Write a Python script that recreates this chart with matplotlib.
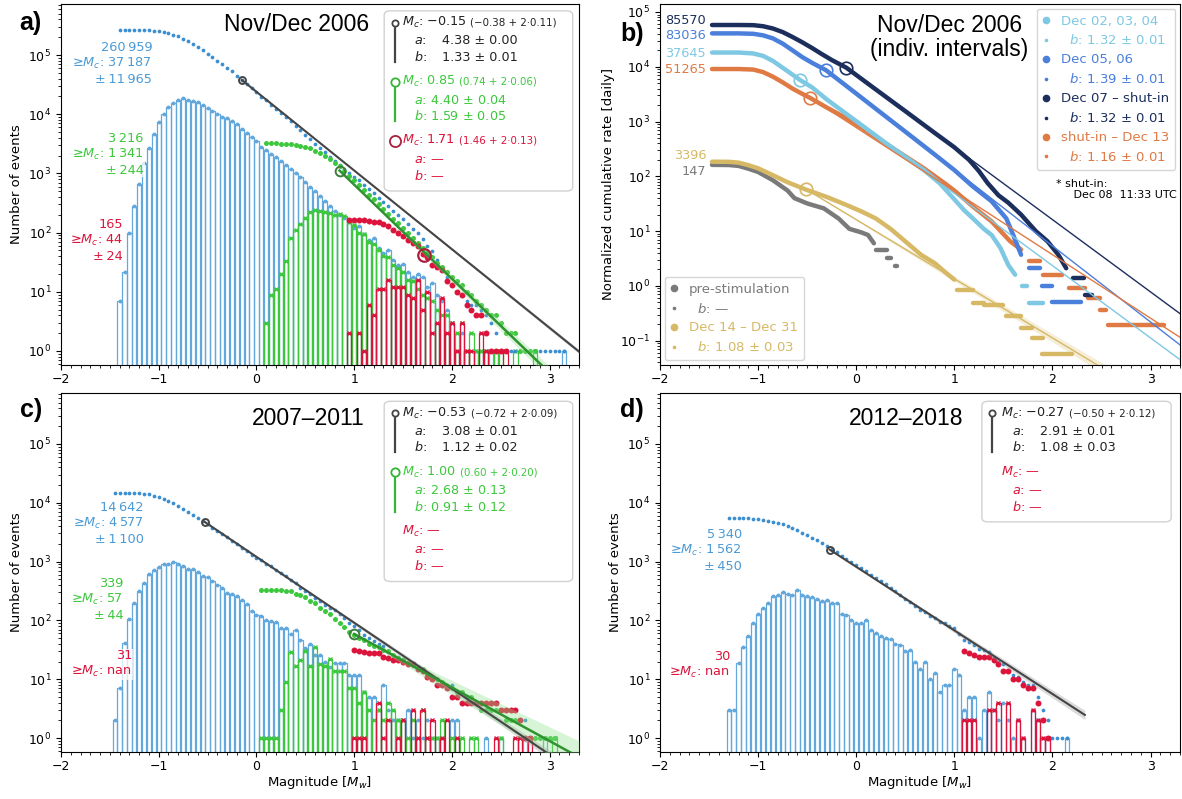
import numpy as np
import matplotlib.pyplot as plt
from matplotlib.lines import Line2D
from matplotlib.patches import FancyBboxPatch
from matplotlib.ticker import MultipleLocator, FixedLocator, LogLocator, NullFormatter

plt.rcParams['font.family'] = ['DejaVu Sans']
plt.rcParams['mathtext.fontset'] = 'dejavusans'

BIN = 0.05

# ---- panel a: Nov/Dec 2006, event counts per 0.05 magnitude bin
a_blue_start = -1.40
a_blue = [7, 22, 97, 283, 670, 1480, 2720, 4700, 7400, 10300,
          13100, 15800, 17500, 18700, 17500, 17000, 16000, 14600, 12900, 11400,
          10300, 9000, 8550, 7700, 6950, 5600, 4900, 4200, 3600, 2820,
          2480, 2140, 1880, 1630, 1370, 1200, 1030, 860, 730, 600,
          500, 410, 340, 280, 230, 200, 180, 150, 120, 130,
          95, 75, 80, 55, 45, 50, 35, 28, 30, 22,
          18, 20, 18, 12, 14, 9, 7, 5, 3, 1,
          2, 1, 0, 1, 1, 1, 1, 1, 0, 0,
          0, 0, 0, 0, 0, 0, 0, 0, 0, 0,
          0, 1]
a_green_start = 0.10
a_green = [3, 9, 11, 20, 33, 80, 110, 140, 180, 220,
           240, 230, 220, 215, 200, 210, 190, 150, 135, 100,
           95, 70, 65, 50, 40, 38, 28, 25, 22, 16,
           15, 11, 9, 8, 7, 5, 4, 4, 3, 2,
           3, 1, 2, 1, 1, 1, 0, 1, 1, 0,
           0, 1, 0, 0, 0, 1]
a_red_start = 0.95
a_red = [2, 0, 2, 1, 6, 4, 11, 11, 16, 12,
         12, 12, 9, 8, 16, 5, 10, 2, 3, 8,
         2, 3, 1, 3, 1, 1, 0, 2, 1, 0,
         0, 0, 1]

# ---- panel c: 2007-2011
c_blue_start = -1.45
c_blue = [2, 7, 42, 105, 200, 314, 430, 620, 720, 800,
          900, 920, 1000, 920, 840, 760, 740, 660, 570, 556,
          460, 400, 350, 294, 283, 258, 224, 192, 147, 122,
          118, 100, 98, 95, 74, 73, 59, 68, 47, 34,
          40, 26, 26, 20, 16, 19, 19, 19, 12, 12,
          12, 6, 5, 5, 3, 8, 3, 2, 2, 2,
          3, 1, 2, 1, 2, 1, 1, 1, 0, 2,
          2, 0, 0, 0, 0, 0, 1, 0, 0, 1,
          0, 0, 0, 0, 1, 0, 0, 0, 1]
c_green_start = 0.05
c_green = [1, 1, 1, 1, 3, 9, 29, 17, 21, 30,
           17, 36, 18, 17, 22, 14, 14, 14, 7, 7,
           4, 6, 3, 2, 3, 2, 4, 3, 2, 2,
           1, 2, 1, 3, 1, 1, 1, 2, 0, 1,
           0, 1, 0, 1, 1, 0, 0, 0, 0, 1,
           0, 0, 0, 1, 0, 0, 0, 0, 0, 0, 1]
c_red_start = 1.00
c_red = [1, 1, 1, 0, 0, 4, 1, 2, 0, 1,
         2, 0, 3, 1, 3, 1, 2, 0, 1, 2,
         0, 1, 0, 0, 0, 0, 0, 0, 0, 1,
         0, 0, 0, 1, 1, 0, 1]

# ---- panel d: 2012-2018
d_blue_start = -1.30
d_blue = [3, 3, 19, 35, 55, 92, 130, 165, 200, 255,
          265, 300, 285, 270, 330, 275, 260, 245, 230, 210,
          225, 200, 200, 130, 125, 100, 90, 90, 100, 70,
          60, 55, 50, 48, 40, 38, 30, 32, 20, 15,
          20, 10, 13, 6, 8, 8, 15, 12, 3, 5,
          5, 1, 3, 6, 3, 2, 4, 2, 1, 2,
          1, 0, 3, 2, 1, 1, 0, 0, 0, 1]
d_red_start = 1.10
d_red = [2, 2, 2, 0, 0, 3, 3, 4, 0, 4, 0, 2, 1, 0, 3, 2, 1, 1]

# Gutenberg-Richter fits: log10 N = a - b M  (a, b, sigma_b, Mc)
a_fit_black = [4.38, 1.33, 0.01, -0.15]
a_fit_green = [4.40, 1.59, 0.05, 0.85]
a_mc_red = 1.71
c_fit_black = [3.08, 1.12, 0.02, -0.53]
c_fit_green = [2.68, 0.91, 0.12, 1.00]
d_fit_black = [2.91, 1.08, 0.03, -0.27]

# ---- panel b: normalized cumulative daily rates, individual intervals
navy_m = [-1.47, -1.2, -1.05, -0.95, -0.85, -0.75, -0.65, -0.55, -0.45, -0.35, -0.25, -0.1,
          0.2, 0.5, 0.8, 1.0, 1.15, 1.25, 1.34, 1.45, 1.55, 1.68, 1.83, 1.95, 2.06, 2.14]
navy_r = [57900, 57900, 57500, 55000, 50000, 43000, 35000, 28000, 22000, 17000, 13300, 9600,
          3850, 1550, 620, 339, 200, 125, 75, 45, 33, 20, 10, 6.5, 3.7, 2.1]
navy_steps = [(1.38, 2.21, 2.32), (0.69, 2.33, 2.40)]

mid_m = [-1.47, -1.2, -1.05, -0.95, -0.85, -0.75, -0.65, -0.55, -0.45, -0.31, 0.0, 0.3,
         0.6, 0.81, 1.0, 1.19, 1.38, 1.53, 1.6, 1.68]
mid_r = [40700, 40700, 40000, 37500, 33000, 26500, 20000, 15000, 11800, 8700, 3240, 1240,
         475, 242, 130, 65, 35, 17, 8.5, 3.7]
mid_steps = [(2.1, 1.76, 1.87), (0.98, 1.89, 2.0), (0.51, 2.0, 2.29)]

light_m = [-1.47, -1.2, -1.05, -0.95, -0.85, -0.75, -0.65, -0.57, -0.45, -0.3, 0.0, 0.3,
           0.69, 0.85, 1.0, 1.1, 1.19, 1.3, 1.38, 1.47, 1.55, 1.62]
light_r = [18200, 18200, 17500, 15800, 12800, 9600, 7200, 5700, 4200, 2530, 1016, 407,
           130, 75, 38, 24, 17, 11, 8.5, 4.9, 2.4, 1.6]
light_steps = [(1.0, 1.69, 1.74), (0.48, 1.76, 1.90)]

orange_m = [-1.47, -1.2, -1.05, -0.95, -0.85, -0.75, -0.65, -0.55, -0.47, -0.3, -0.1, 0.05,
            0.25, 0.43, 0.69, 0.9, 1.0, 1.19, 1.38, 1.57, 1.68]
orange_r = [9100, 9100, 8900, 8000, 6600, 5200, 4000, 3200, 2700, 1800, 1150, 780,
            450, 280, 140, 75, 55, 28, 15, 6.5, 4.6]
orange_steps = [(2.8, 1.76, 1.87), (1.6, 1.90, 2.10), (0.9, 2.17, 2.33),
                (0.6, 2.36, 2.48), (0.37, 2.48, 2.55), (0.19, 2.57, 3.14)]

gold_m = [-1.47, -1.3, -1.2, -1.1, -1.0, -0.85, -0.7, -0.51, -0.3, -0.1, 0.05, 0.2, 0.35,
          0.5, 0.66, 0.8, 0.92, 1.0]
gold_r = [185, 184, 178, 160, 140, 105, 78, 57, 42, 30, 23, 17, 11,
          6.5, 3.7, 2.6, 1.7, 1.3]
gold_steps = [(0.85, 1.03, 1.19), (0.48, 1.19, 1.30), (0.45, 1.30, 1.50), (0.28, 1.53, 1.68),
              (0.17, 1.68, 1.79), (0.11, 1.79, 1.90), (0.057, 1.89, 2.20)]

grey_m = [-1.47, -1.3, -1.2, -1.1, -1.0, -0.85, -0.7, -0.63, -0.5, -0.33, -0.18, -0.07,
          0.05, 0.12, 0.18]
grey_r = [162, 161, 155, 138, 120, 85, 55, 40, 32, 26, 17, 11, 9.5, 8.5, 6]
grey_steps = [(4.6, 0.20, 0.31), (3.2, 0.31, 0.35), (2.3, 0.39, 0.42)]

# fits in panel b: light, mid, navy, orange, gold
b_fit_a = [3.01, 3.51, 3.85, 2.89, 1.21]
b_fit_b = [1.32, 1.39, 1.32, 1.16, 1.08]
b_fit_mc = [-0.57, -0.31, -0.10, -0.47, -0.51]

# colours
BLUE_DOT = '#3b8ed0'
BLUE_BAR = '#62a8dd'
BLUE_TXT = '#4a9ad6'
GREEN = '#3cc83c'
GREEN_FIT = '#2f932f'
RED = '#dc143c'
DARK = '#454545'
LIGHT = '#7ec8e3'
MID = '#4a7fdb'
NAVY = '#1c2e5c'
ORANGE = '#e07a44'
GOLD = '#d7b865'
GREY = '#7a7a7a'

fig = plt.figure(figsize=(11.82, 7.99), dpi=100)
ax_a = fig.add_axes([0.0516, 0.5432, 0.4382, 0.4518])
ax_b = fig.add_axes([0.5584, 0.5432, 0.4399, 0.4518])
ax_c = fig.add_axes([0.0516, 0.0588, 0.4382, 0.4493])
ax_d = fig.add_axes([0.5584, 0.0588, 0.4399, 0.4493])

for ax in (ax_a, ax_b, ax_c, ax_d):
    ax.set_yscale('log')
    ax.set_xlim(-2, 3.3)
    ax.xaxis.set_major_locator(FixedLocator([-2, -1, 0, 1, 2, 3]))
    ax.xaxis.set_minor_locator(MultipleLocator(0.1))
    ax.yaxis.set_minor_locator(LogLocator(base=10, subs=np.arange(2, 10)))
    ax.yaxis.set_minor_formatter(NullFormatter())
    ax.tick_params(labelsize=9)
    ax.tick_params(axis='x', pad=2.5)
for ax in (ax_a, ax_c, ax_d):
    ax.set_ylim(0.58, 7.3e5)
    ax.yaxis.set_major_locator(FixedLocator([1, 10, 100, 1e3, 1e4, 1e5]))
    ax.set_ylabel('Number of events', fontsize=9.5)
ax_b.set_ylim(0.036, 1.4e5)
ax_b.yaxis.set_major_locator(FixedLocator([0.1, 1, 10, 100, 1e3, 1e4, 1e5]))
ax_b.set_ylabel('Normalized cumulative rate [daily]', fontsize=9.5)
for ax in (ax_c, ax_d):
    ax.set_xlabel('Magnitude [$M_w$]', fontsize=9.5, labelpad=0.5)


def draw_hist(ax, start, counts, edge, top_marker, top_ms, z):
    m = start + BIN * np.arange(len(counts))
    n = np.asarray(counts, float)
    k = n > 0
    ax.bar(m[k], n[k] - 0.01, bottom=0.01, width=0.044, fill=False,
           edgecolor=edge, lw=0.9, zorder=z)
    ax.plot(m[k], n[k], ls='none', marker=top_marker, ms=top_ms, color=edge,
            mew=1.0, zorder=z + 0.05)


def draw_cum(ax, start, counts, color, ms):
    m = start + BIN * np.arange(len(counts))
    cum = np.cumsum(np.asarray(counts, float)[::-1])[::-1]
    ax.plot(m, cum, ls='none', marker='o', ms=ms, mew=0, color=color, zorder=3)
    return m, cum


def draw_fit(ax, fit, m_end, color, band, lw, circ_ms, circ_color):
    a, b, sb, mc = fit
    m = np.linspace(mc, m_end, 60)
    y0 = a - b * mc
    ax.fill_between(m, 10 ** (y0 - (b + sb) * (m - mc)), 10 ** (y0 - (b - sb) * (m - mc)),
                    color=band, alpha=0.35, lw=0, zorder=3.5)
    ax.plot(m, 10 ** (a - b * m), color=color, lw=lw, zorder=4)
    ax.plot([mc], [10 ** y0], marker='o', ms=circ_ms, mfc='none', mec=circ_color,
            mew=1.4, zorder=5)


def note(ax, x, y, txt, color):
    ax.text(x, y, txt, transform=ax.transAxes, ha='right', va='center',
            multialignment='right', color=color, fontsize=9.3, zorder=6,
            bbox=dict(fc='white', ec='none', alpha=0.75, pad=0.5))


def stat_box(ax, x0, y0, x1, y1):
    ax.add_patch(FancyBboxPatch((x0, y0), x1 - x0, y1 - y0,
                                boxstyle='round,pad=0,rounding_size=0.012',
                                transform=ax.transAxes, fc='white', ec='0.8',
                                lw=1, alpha=0.9, zorder=6))


def mc_row(ax, x, y, main, small, color):
    t = ax.text(x, y, main, transform=ax.transAxes, color=color, fontsize=9.2,
                va='center', zorder=7)
    if small:
        ax.annotate(small, xy=(1, 0.5), xycoords=t, xytext=(3, 0),
                    textcoords='offset points', color=color, fontsize=7.4,
                    va='center', zorder=7)


def txt(ax, x, y, s, color):
    ax.text(x, y, s, transform=ax.transAxes, color=color, fontsize=9.2,
            va='center', zorder=7)


def handle(ax, x, y_top, y_bot, color, ms, line=True):
    if line:
        ax.plot([x, x], [y_top, y_bot], transform=ax.transAxes, color=color,
                lw=1.6, zorder=7)
    ax.plot([x], [y_top], transform=ax.transAxes, marker='o', ms=ms, mfc='white',
            mec=color, mew=1.3, zorder=8)


# ================= panel a =================
draw_hist(ax_a, a_blue_start, a_blue, BLUE_BAR, 'o', 1.8, 2)
draw_hist(ax_a, a_green_start, a_green, GREEN, 'x', 3.5, 2.2)
draw_hist(ax_a, a_red_start, a_red, RED, 'x', 3.5, 2.4)
draw_cum(ax_a, a_blue_start, a_blue, BLUE_DOT, 2.7)
draw_cum(ax_a, a_green_start, a_green, GREEN, 3.6)
mr, cr = draw_cum(ax_a, a_red_start, a_red, RED, 4.3)
draw_fit(ax_a, a_fit_black, 3.3, DARK, '#9a9a9a', 1.5, 5, DARK)
draw_fit(ax_a, a_fit_green, 3.3, GREEN_FIT, '#8fe08f', 1.8, 7, '#3d7d3d')
ax_a.plot([a_mc_red], [np.interp(a_mc_red, mr, cr)], marker='o', ms=9, mfc='none',
          mec='#a8203c', mew=1.6, zorder=5)

note(ax_a, 0.176, 0.836, '260\u2009959\n\u2265$M_c$: 37\u2009187\n\u00b1\u200911\u2009965', BLUE_TXT)
note(ax_a, 0.160, 0.584, '3\u2009216\n\u2265$M_c$: 1\u2009341\n\u00b1\u2009244', GREEN)
note(ax_a, 0.120, 0.344, '165\n\u2265$M_c$: 44\n\u00b1\u200924', RED)

stat_box(ax_a, 0.624, 0.482, 0.988, 0.981)
handle(ax_a, 0.644, 0.948, 0.838, DARK, 4.5)
mc_row(ax_a, 0.658, 0.948, '$M_c$: \u22120.15', '(\u22120.38 + 2\u00b70.11)', '#222222')
txt(ax_a, 0.681, 0.899, '$a$:', '#222222')
txt(ax_a, 0.735, 0.899, '4.38 \u00b1 0.00', '#222222')
txt(ax_a, 0.681, 0.852, '$b$:', '#222222')
txt(ax_a, 0.735, 0.852, '1.33 \u00b1 0.01', '#222222')
handle(ax_a, 0.644, 0.785, 0.675, '#36b536', 6)
mc_row(ax_a, 0.658, 0.785, '$M_c$: 0.85', '(0.74 + 2\u00b70.06)', GREEN)
txt(ax_a, 0.681, 0.734, '$a$: 4.40 \u00b1 0.04', GREEN)
txt(ax_a, 0.681, 0.689, '$b$: 1.59 \u00b1 0.05', GREEN)
handle(ax_a, 0.644, 0.621, 0.621, '#a8203c', 8, line=False)
mc_row(ax_a, 0.658, 0.621, '$M_c$: 1.71', '(1.46 + 2\u00b70.13)', RED)
txt(ax_a, 0.681, 0.570, '$a$: \u2014', RED)
txt(ax_a, 0.681, 0.524, '$b$: \u2014', RED)

ax_a.text(0.455, 0.942, 'Nov/Dec 2006', transform=ax_a.transAxes, ha='center',
          va='center', fontsize=16.5, family='Liberation Sans')

# ================= panel c =================
draw_hist(ax_c, c_blue_start, c_blue, BLUE_BAR, 'o', 1.8, 2)
draw_hist(ax_c, c_green_start, c_green, GREEN, 'x', 3.5, 2.2)
draw_hist(ax_c, c_red_start, c_red, RED, 'x', 3.5, 2.4)
draw_cum(ax_c, c_blue_start, c_blue, BLUE_DOT, 2.7)
draw_cum(ax_c, c_green_start, c_green, GREEN, 3.6)
draw_cum(ax_c, c_red_start, c_red, RED, 4.3)
draw_fit(ax_c, c_fit_black, 3.3, DARK, '#9a9a9a', 1.5, 5, DARK)
draw_fit(ax_c, c_fit_green, 3.3, GREEN_FIT, '#8fe08f', 1.8, 7, '#3d7d3d')

note(ax_c, 0.160, 0.637, '14\u2009642\n\u2265$M_c$: 4\u2009577\n\u00b1\u20091\u2009100', BLUE_TXT)
note(ax_c, 0.120, 0.425, '339\n\u2265$M_c$: 57\n\u00b1\u200944', GREEN)
note(ax_c, 0.137, 0.2455, '31\n\u2265$M_c$: nan', RED)

stat_box(ax_c, 0.624, 0.475, 0.988, 0.977)
handle(ax_c, 0.644, 0.944, 0.835, DARK, 4.5)
mc_row(ax_c, 0.658, 0.944, '$M_c$: \u22120.53', '(\u22120.72 + 2\u00b70.09)', '#222222')
txt(ax_c, 0.681, 0.893, '$a$:', '#222222')
txt(ax_c, 0.735, 0.893, '3.08 \u00b1 0.01', '#222222')
txt(ax_c, 0.681, 0.849, '$b$:', '#222222')
txt(ax_c, 0.735, 0.849, '1.12 \u00b1 0.02', '#222222')
handle(ax_c, 0.644, 0.780, 0.668, '#36b536', 6)
mc_row(ax_c, 0.658, 0.780, '$M_c$: 1.00', '(0.60 + 2\u00b70.20)', GREEN)
txt(ax_c, 0.681, 0.729, '$a$: 2.68 \u00b1 0.13', GREEN)
txt(ax_c, 0.681, 0.682, '$b$: 0.91 \u00b1 0.12', GREEN)
txt(ax_c, 0.658, 0.615, '$M_c$: \u2014', RED)
txt(ax_c, 0.681, 0.564, '$a$: \u2014', RED)
txt(ax_c, 0.681, 0.517, '$b$: \u2014', RED)

ax_c.text(0.477, 0.930, '2007\u20132011', transform=ax_c.transAxes, ha='center',
          va='center', fontsize=16.5, family='Liberation Sans')

# ================= panel d =================
draw_hist(ax_d, d_blue_start, d_blue, BLUE_BAR, 'o', 1.8, 2)
draw_hist(ax_d, d_red_start, d_red, RED, 'x', 3.5, 2.4)
draw_cum(ax_d, d_blue_start, d_blue, BLUE_DOT, 2.7)
draw_cum(ax_d, d_red_start, d_red, RED, 4.3)
draw_fit(ax_d, d_fit_black, 2.33, DARK, '#9a9a9a', 1.5, 5, DARK)

note(ax_d, 0.158, 0.562, '5\u2009340\n\u2265$M_c$: 1\u2009562\n\u00b1\u2009450', BLUE_TXT)
note(ax_d, 0.135, 0.242, '30\n\u2265$M_c$: nan', RED)

stat_box(ax_d, 0.619, 0.641, 0.983, 0.977)
handle(ax_d, 0.639, 0.944, 0.835, DARK, 4.5)
mc_row(ax_d, 0.656, 0.944, '$M_c$: \u22120.27', '(\u22120.50 + 2\u00b70.12)', '#222222')
txt(ax_d, 0.677, 0.893, '$a$:', '#222222')
txt(ax_d, 0.731, 0.893, '2.91 \u00b1 0.01', '#222222')
txt(ax_d, 0.677, 0.849, '$b$:', '#222222')
txt(ax_d, 0.731, 0.849, '1.08 \u00b1 0.03', '#222222')
txt(ax_d, 0.656, 0.780, '$M_c$: \u2014', RED)
txt(ax_d, 0.677, 0.729, '$a$: \u2014', RED)
txt(ax_d, 0.677, 0.682, '$b$: \u2014', RED)

ax_d.text(0.474, 0.930, '2012\u20132018', transform=ax_d.transAxes, ha='center',
          va='center', fontsize=16.5, family='Liberation Sans')

# ================= panel b =================
curves = [(grey_m, grey_r, grey_steps, GREY), (gold_m, gold_r, gold_steps, GOLD),
          (orange_m, orange_r, orange_steps, ORANGE), (light_m, light_r, light_steps, LIGHT),
          (mid_m, mid_r, mid_steps, MID), (navy_m, navy_r, navy_steps, NAVY)]
for m, r, steps, col in curves:
    ax_b.plot(m, r, color=col, lw=3.2, solid_capstyle='round', solid_joinstyle='round',
              zorder=2)
    for val, m0, m1 in steps:
        ax_b.plot([m0, m1], [val, val], color=col, lw=3.2, solid_capstyle='round', zorder=2)

fit_cols = [LIGHT, MID, NAVY, ORANGE, GOLD]
for a, b, mc, col in zip(b_fit_a, b_fit_b, b_fit_mc, fit_cols):
    m = np.linspace(mc, 3.3, 60)
    ax_b.plot(m, 10 ** (a - b * m), color=col, lw=1.0, zorder=3)
    ax_b.plot([mc], [10 ** (a - b * mc)], marker='o', ms=9, mfc='none', mec=col,
              mew=1.2, zorder=4)
    if col == GOLD:
        y0 = a - b * mc
        ax_b.fill_between(m, 10 ** (y0 - (b + 0.03) * (m - mc)),
                          10 ** (y0 - (b - 0.03) * (m - mc)), color=GOLD, alpha=0.25,
                          lw=0, zorder=2.5)

for label, y, col in [('85570', 70500, NAVY), ('83036', 36500, MID), ('37645', 17400, LIGHT),
                      ('51265', 8900, ORANGE), ('3396', 240, GOLD), ('147', 123, GREY)]:
    ax_b.text(-1.53, y, label, ha='right', va='center', color=col, fontsize=9.3)

ax_b.text(0.556, 0.907, 'Nov/Dec 2006\n(indiv. intervals)', transform=ax_b.transAxes,
          ha='center', va='center', fontsize=16.5, family='Liberation Sans', linespacing=1.1)


def big(c):
    return Line2D([], [], ls='none', marker='o', ms=4.5, color=c)


def small(c):
    return Line2D([], [], ls='none', marker='o', ms=1.6, color=c)


leg1 = ax_b.legend([big(LIGHT), small(LIGHT), big(MID), small(MID), big(NAVY), small(NAVY),
                    big(ORANGE), small(ORANGE)],
                   ['Dec 02, 03, 04', '  $b$: 1.32 \u00b1 0.01', 'Dec 05, 06',
                    '  $b$: 1.39 \u00b1 0.01', 'Dec 07 \u2013 shut-in', '  $b$: 1.32 \u00b1 0.01',
                    'shut-in \u2013 Dec 13', '  $b$: 1.16 \u00b1 0.01'],
                   loc='upper right', fontsize=9.5,
                   labelcolor=[LIGHT, LIGHT, MID, MID, NAVY, NAVY, ORANGE, ORANGE],
                   handlelength=0.5, handletextpad=0.9, labelspacing=0.45,
                   borderpad=0.45, borderaxespad=0.35)
ax_b.add_artist(leg1)
ax_b.legend([big(GREY), small(GREY), big(GOLD), small(GOLD)],
            ['pre-stimulation', '  $b$: \u2014', 'Dec 14 \u2013 Dec 31', '  $b$: 1.08 \u00b1 0.03'],
            loc='lower left', fontsize=9.5, labelcolor=[GREY, GREY, GOLD, GOLD],
            handlelength=0.5, handletextpad=0.9, labelspacing=0.45,
            borderpad=0.45, borderaxespad=0.35)
ax_b.text(0.762, 0.515, '* shut-in:\n     Dec 08  11:33 UTC', transform=ax_b.transAxes,
          ha='left', va='top', fontsize=8, linespacing=1.1)

# panel letters
for x, y, s in [(0.026, 0.971, 'a)'), (0.535, 0.957, 'b)'), (0.026, 0.487, 'c)'),
                (0.535, 0.487, 'd)')]:
    fig.text(x, y, s, ha='center', va='center', fontsize=18, fontweight='bold',
             family='Liberation Sans')

fig.savefig('out.png', dpi=100)
